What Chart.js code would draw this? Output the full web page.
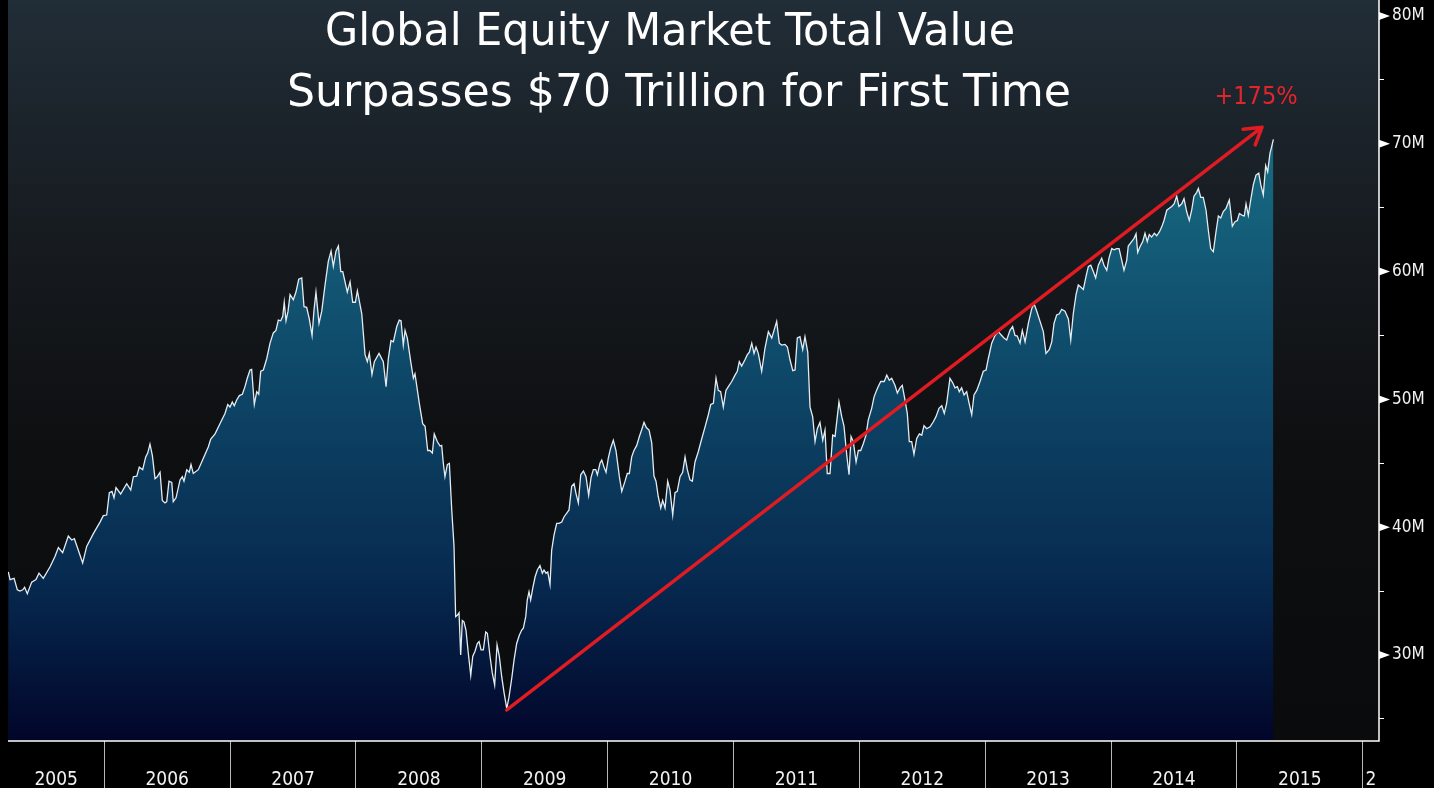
<!DOCTYPE html>
<html>
<head>
<meta charset="utf-8">
<title>Global Equity Market Total Value</title>
<script src="https://cdn.jsdelivr.net/npm/chart.js@4.4.0/dist/chart.umd.min.js"></script>
<style>
    html, body { margin: 0; padding: 0; background: #000; }
    #wrap { width: 1434px; height: 788px; position: relative; }
</style>
</head>
<body>
<div id="wrap"><canvas id="equity-chart"></canvas></div>
<script>
// Weekly closes (decimal years / value in trillions, axis shows "M")
const years = [
    2005.237, 2005.251, 2005.283, 2005.309, 2005.330, 2005.352, 2005.367, 2005.388, 2005.423, 2005.457,
    2005.481, 2005.515, 2005.569, 2005.608, 2005.635, 2005.669, 2005.714, 2005.741, 2005.762, 2005.797,
    2005.828, 2005.860, 2005.913, 2005.966, 2005.992, 2006.019, 2006.040, 2006.061, 2006.077, 2006.093,
    2006.130, 2006.178, 2006.210, 2006.231, 2006.258, 2006.278, 2006.305, 2006.329, 2006.345, 2006.363,
    2006.382, 2006.403, 2006.421, 2006.443, 2006.461, 2006.482, 2006.496, 2006.514, 2006.536, 2006.548,
    2006.570, 2006.602, 2006.620, 2006.633, 2006.655, 2006.675, 2006.689, 2006.707, 2006.747, 2006.787,
    2006.827, 2006.846, 2006.880, 2006.919, 2006.959, 2006.981, 2006.999, 2007.017, 2007.033, 2007.052,
    2007.073, 2007.097, 2007.118, 2007.136, 2007.158, 2007.171, 2007.192, 2007.211, 2007.227, 2007.243,
    2007.264, 2007.291, 2007.317, 2007.343, 2007.364, 2007.383, 2007.402, 2007.418, 2007.430, 2007.444,
    2007.460, 2007.476, 2007.502, 2007.523, 2007.545, 2007.569, 2007.587, 2007.608, 2007.629, 2007.651,
    2007.666, 2007.682, 2007.706, 2007.728, 2007.754, 2007.780, 2007.802, 2007.820, 2007.841, 2007.860,
    2007.879, 2007.895, 2007.913, 2007.931, 2007.953, 2007.974, 2007.995, 2008.011, 2008.046, 2008.072,
    2008.090, 2008.106, 2008.127, 2008.146, 2008.183, 2008.217, 2008.239, 2008.257, 2008.278, 2008.297,
    2008.324, 2008.344, 2008.358, 2008.376, 2008.390, 2008.408, 2008.435, 2008.456, 2008.469, 2008.503,
    2008.530, 2008.549, 2008.570, 2008.588, 2008.607, 2008.622, 2008.646, 2008.668, 2008.681, 2008.694,
    2008.707, 2008.726, 2008.742, 2008.761, 2008.779, 2008.792, 2008.805, 2008.819, 2008.832, 2008.845,
    2008.858, 2008.874, 2008.893, 2008.912, 2008.928, 2008.946, 2008.964, 2008.978, 2008.994, 2009.012,
    2009.031, 2009.044, 2009.065, 2009.083, 2009.102, 2009.121, 2009.139, 2009.158, 2009.176, 2009.198,
    2009.216, 2009.238, 2009.256, 2009.277, 2009.298, 2009.317, 2009.330, 2009.349, 2009.361, 2009.375,
    2009.388, 2009.404, 2009.423, 2009.441, 2009.462, 2009.481, 2009.494, 2009.510, 2009.524, 2009.542,
    2009.555, 2009.574, 2009.595, 2009.613, 2009.635, 2009.653, 2009.675, 2009.693, 2009.714, 2009.733,
    2009.748, 2009.767, 2009.786, 2009.807, 2009.828, 2009.849, 2009.868, 2009.886, 2009.905, 2009.918,
    2009.939, 2009.953, 2009.971, 2009.987, 2010.005, 2010.024, 2010.045, 2010.066, 2010.093, 2010.112,
    2010.138, 2010.156, 2010.172, 2010.191, 2010.209, 2010.231, 2010.252, 2010.271, 2010.289, 2010.307,
    2010.329, 2010.350, 2010.368, 2010.384, 2010.402, 2010.422, 2010.437, 2010.456, 2010.477, 2010.495,
    2010.517, 2010.535, 2010.553, 2010.575, 2010.596, 2010.615, 2010.633, 2010.654, 2010.673, 2010.694,
    2010.720, 2010.747, 2010.774, 2010.800, 2010.819, 2010.840, 2010.861, 2010.879, 2010.898, 2010.919,
    2010.940, 2010.959, 2010.986, 2011.012, 2011.030, 2011.046, 2011.065, 2011.091, 2011.110, 2011.126,
    2011.145, 2011.163, 2011.179, 2011.197, 2011.224, 2011.250, 2011.277, 2011.304, 2011.322, 2011.343,
    2011.364, 2011.383, 2011.409, 2011.428, 2011.449, 2011.471, 2011.489, 2011.507, 2011.528, 2011.550,
    2011.568, 2011.590, 2011.608, 2011.629, 2011.648, 2011.666, 2011.687, 2011.709, 2011.727, 2011.745,
    2011.767, 2011.788, 2011.807, 2011.838, 2011.860, 2011.878, 2011.900, 2011.918, 2011.934, 2011.952,
    2011.974, 2011.992, 2012.011, 2012.032, 2012.053, 2012.071, 2012.098, 2012.117, 2012.143, 2012.170,
    2012.198, 2012.218, 2012.238, 2012.257, 2012.283, 2012.302, 2012.323, 2012.341, 2012.363, 2012.381,
    2012.397, 2012.416, 2012.434, 2012.456, 2012.477, 2012.496, 2012.514, 2012.535, 2012.562, 2012.588,
    2012.609, 2012.633, 2012.655, 2012.675, 2012.694, 2012.720, 2012.742, 2012.760, 2012.779, 2012.794,
    2012.813, 2012.832, 2012.853, 2012.872, 2012.893, 2012.911, 2012.933, 2012.959, 2012.985, 2013.007,
    2013.025, 2013.052, 2013.078, 2013.104, 2013.131, 2013.149, 2013.171, 2013.197, 2013.218, 2013.237,
    2013.255, 2013.277, 2013.295, 2013.317, 2013.343, 2013.370, 2013.388, 2013.410, 2013.436, 2013.462,
    2013.483, 2013.510, 2013.529, 2013.547, 2013.568, 2013.589, 2013.608, 2013.634, 2013.661, 2013.680,
    2013.700, 2013.722, 2013.740, 2013.759, 2013.780, 2013.801, 2013.820, 2013.839, 2013.859, 2013.878,
    2013.899, 2013.926, 2013.944, 2013.966, 2013.984, 2014.006, 2014.024, 2014.045, 2014.064, 2014.085,
    2014.103, 2014.125, 2014.137, 2014.164, 2014.183, 2014.199, 2014.212, 2014.230, 2014.252, 2014.270,
    2014.288, 2014.304, 2014.323, 2014.344, 2014.363, 2014.384, 2014.403, 2014.421, 2014.443, 2014.463,
    2014.482, 2014.501, 2014.522, 2014.540, 2014.562, 2014.580, 2014.601, 2014.622, 2014.641, 2014.659,
    2014.681, 2014.694, 2014.713, 2014.733, 2014.755, 2014.773, 2014.792, 2014.813, 2014.834, 2014.853,
    2014.872, 2014.892, 2014.914, 2014.940, 2014.964, 2014.985, 2015.004, 2015.020, 2015.043, 2015.059,
    2015.073, 2015.091, 2015.110, 2015.131, 2015.152, 2015.174, 2015.190, 2015.210, 2015.229, 2015.245,
    2015.263, 2015.277, 2015.290
];

const values = [
    36.5, 35.9, 36.0, 35.1, 35.0, 35.1, 35.3, 34.8, 35.7, 35.9,
    36.4, 36.0, 36.9, 37.7, 38.4, 38.0, 39.3, 39.0, 39.1, 38.1,
    37.2, 38.5, 39.5, 40.4, 40.9, 40.95, 42.7, 42.8, 42.3, 43.1,
    42.6, 43.4, 42.9, 43.95, 44.0, 44.7, 44.5, 45.5, 45.8, 46.5,
    45.6, 43.8, 43.95, 44.3, 42.1, 41.9, 42.0, 43.6, 43.5, 42.0,
    42.3, 43.7, 43.95, 43.6, 44.5, 44.3, 44.9, 44.2, 44.5, 45.4,
    46.3, 46.9, 47.3, 48.1, 48.9, 49.6, 49.4, 49.8, 49.5, 49.95,
    50.3, 50.4, 51.0, 51.65, 52.3, 52.35, 49.6, 50.6, 50.4, 52.2,
    52.3, 53.2, 54.4, 55.2, 55.4, 56.2, 56.15, 56.5, 57.6, 56.15,
    56.9, 58.2, 57.8, 58.4, 59.4, 59.5, 57.25, 57.2, 56.3, 55.0,
    56.95, 58.4, 55.95, 56.9, 58.95, 60.8, 61.6, 60.4, 61.6, 62.0,
    60.0, 60.0, 59.2, 58.4, 59.2, 57.6, 57.6, 58.5, 56.7, 53.5,
    52.95, 53.6, 51.95, 52.95, 53.6, 52.95, 51.0, 53.2, 54.6, 54.5,
    55.7, 56.2, 56.15, 54.25, 55.4, 54.8, 52.95, 51.65, 52.0, 49.7,
    48.1, 47.9, 46.0, 46.0, 45.8, 47.3, 46.7, 46.35, 46.4, 45.0,
    43.95, 44.9, 45.0, 41.35, 38.5, 33.0, 33.1, 33.3, 30.0, 32.7,
    32.6, 31.95, 30.1, 28.4, 29.9, 30.3, 30.9, 31.05, 30.4, 30.4,
    31.8, 31.7, 29.9, 28.6, 27.65, 30.8, 29.9, 28.3, 27.1, 25.8,
    26.7, 28.2, 29.6, 30.9, 31.55, 31.95, 32.1, 33.0, 34.3, 34.95,
    34.3, 35.2, 36.1, 36.65, 37.0, 36.4, 36.65, 36.4, 36.5, 35.5,
    38.2, 39.4, 40.3, 40.3, 40.4, 40.8, 41.1, 41.35, 43.2, 43.4,
    42.65, 41.9, 44.1, 44.4, 43.95, 42.5, 43.9, 44.5, 44.5, 44.1,
    45.0, 45.25, 44.7, 44.3, 45.4, 46.2, 46.8, 46.0, 43.95, 42.8,
    43.6, 44.2, 44.2, 45.5, 46.0, 46.4, 47.1, 47.65, 48.2, 47.8,
    47.6, 46.6, 44.0, 43.6, 42.4, 41.5, 42.1, 41.5, 43.6, 42.9,
    40.95, 42.7, 42.8, 43.95, 44.3, 45.5, 44.5, 43.7, 43.6, 45.1,
    45.9, 46.9, 47.85, 48.8, 49.6, 49.7, 51.65, 50.7, 50.6, 49.4,
    50.7, 51.0, 51.4, 51.9, 52.2, 52.95, 52.6, 53.1, 53.5, 53.7,
    54.4, 53.6, 54.1, 53.6, 52.2, 54.0, 55.3, 54.8, 55.4, 56.1,
    54.4, 54.25, 54.3, 54.1, 53.1, 52.25, 52.3, 54.8, 54.9, 53.9,
    54.9, 53.7, 49.4, 48.65, 46.7, 47.7, 48.2, 46.8, 47.6, 44.2,
    44.2, 47.2, 47.1, 49.8, 48.65, 47.9, 45.65, 44.1, 47.1, 46.7,
    45.1, 46.0, 46.0, 46.55, 47.2, 48.4, 49.3, 50.2, 50.85, 51.4,
    51.4, 51.9, 51.5, 51.65, 51.1, 50.5, 50.9, 51.1, 49.95, 48.9,
    46.7, 46.7, 45.7, 46.95, 47.3, 47.2, 47.95, 47.7, 47.85, 48.25,
    48.65, 49.3, 49.5, 48.9, 49.7, 51.65, 51.3, 50.9, 51.0, 50.6,
    50.9, 50.35, 50.6, 49.7, 48.8, 50.35, 50.7, 51.4, 52.2, 52.3,
    53.2, 54.4, 55.0, 55.3, 55.0, 54.8, 54.65, 55.4, 55.7, 55.0,
    54.95, 54.4, 55.4, 54.5, 55.95, 57.1, 57.5, 56.9, 56.1, 55.3,
    53.6, 53.9, 54.5, 55.95, 56.6, 56.7, 57.05, 56.9, 56.3, 54.65,
    56.7, 58.2, 58.95, 58.8, 58.6, 59.6, 60.4, 60.5, 60.0, 59.5,
    60.5, 61.05, 60.5, 60.1, 61.05, 61.8, 61.7, 61.8, 61.8, 60.9,
    60.1, 60.9, 62.0, 62.35, 62.6, 62.95, 61.5, 61.95, 62.35, 63.0,
    62.35, 62.9, 62.7, 63.0, 62.8, 63.1, 63.5, 64.0, 64.8, 64.95,
    65.1, 65.3, 65.9, 65.1, 65.3, 65.7, 64.7, 64.0, 64.8, 65.9,
    66.2, 66.5, 65.8, 65.8, 64.8, 63.25, 61.8, 61.55, 63.1, 64.35,
    64.2, 64.7, 64.95, 65.6, 63.55, 63.9, 64.0, 64.55, 64.4, 64.35,
    65.3, 64.4, 65.6, 66.8, 67.55, 67.7, 66.8, 66.0, 68.3, 67.8,
    69.25, 69.8, 70.35
];

// Axis range and ticks
const yearMin = 2005.2347;
const yearMax = 2016.1295;
const valueMin = 23.27;
const valueMax = 81.25;
const yearLabels = ['2005', '2006', '2007', '2008', '2009', '2010', '2011', '2012', '2013', '2014', '2015', '2'];
const yearStarts = [2005, 2006, 2007, 2008, 2009, 2010, 2011, 2012, 2013, 2014, 2015, 2016];
const valueTicks = [25, 30, 35, 40, 45, 50, 55, 60, 65, 70, 75, 80];

// Annotation: trough (Mar 2009) to latest high
const arrowStart = [2009.198, 25.7];
const arrowEnd = [2015.200, 71.3];
const arrowLabel = '+175%';

const titleLines = ['Global Equity Market Total Value', 'Surpasses $70 Trillion for First Time'];

const FONT = '"DejaVu Sans Condensed", "DejaVu Sans", sans-serif';

// Labels sit in the middle of the visible part of each year
const labelTicks = yearStarts.map(function(start, i) {
    const a = Math.max(start, yearMin);
    const b = Math.min(start + 1, yearMax);
    return { value: (a + b) / 2, label: yearLabels[i] };
});
const boundaryTicks = yearStarts.filter(function(s) { return s > yearMin && s < yearMax; })
    .map(function(s) { return { value: s, label: '' }; });

function isBoundary(v) {
    return Math.abs(v - Math.round(v)) < 1e-6;
}

const backgroundPlugin = {
    id: 'plotBackground',
    beforeDraw(chart) {
        const { ctx, chartArea } = chart;
        ctx.save();
        ctx.fillStyle = '#000';
        ctx.fillRect(0, 0, chart.width, chart.height);
        const g = ctx.createLinearGradient(0, chartArea.top, 0, chartArea.bottom);
        g.addColorStop(0, '#212d37');
        g.addColorStop(0.3, '#171c21');
        g.addColorStop(0.6, '#0e0f11');
        g.addColorStop(1, '#0a0b0d');
        ctx.fillStyle = g;
        ctx.fillRect(chartArea.left, chartArea.top, chartArea.right - chartArea.left, chartArea.bottom - chartArea.top);
        ctx.restore();
    }
};

const annotationPlugin = {
    id: 'growthArrow',
    afterDatasetsDraw(chart) {
        const { ctx, scales } = chart;
        const x0 = scales.x.getPixelForValue(arrowStart[0]);
        const y0 = scales.y.getPixelForValue(arrowStart[1]);
        const x1 = scales.x.getPixelForValue(arrowEnd[0]);
        const y1 = scales.y.getPixelForValue(arrowEnd[1]);
        const ang = Math.atan2(y1 - y0, x1 - x0);
        const head = 19;

        ctx.save();
        ctx.strokeStyle = '#e01b22';
        ctx.lineWidth = 3.5;
        ctx.lineCap = 'round';
        ctx.lineJoin = 'round';
        ctx.beginPath();
        ctx.moveTo(x0, y0);
        ctx.lineTo(x1, y1);
        ctx.moveTo(x1 - head * Math.cos(ang - 0.55), y1 - head * Math.sin(ang - 0.55));
        ctx.lineTo(x1, y1);
        ctx.lineTo(x1 - head * Math.cos(ang + 0.55), y1 - head * Math.sin(ang + 0.55));
        ctx.stroke();

        ctx.fillStyle = '#e3242b';
        ctx.font = '25px ' + FONT;
        ctx.textAlign = 'center';
        ctx.textBaseline = 'middle';
        ctx.fillText(arrowLabel, x1 - 6, y1 - 30);
        ctx.restore();
    }
};

// draw a line of text centred at cx, stretched to the given width
function drawStretched(ctx, text, cx, baseline, width) {
    const measured = ctx.measureText(text).width;
    const sx = width / measured;
    ctx.save();
    ctx.translate(cx, baseline);
    ctx.scale(sx, 1);
    ctx.fillText(text, 0, 0);
    ctx.restore();
}

const overlayPlugin = {
    id: 'titleAndMarkers',
    afterDraw(chart) {
        const { ctx, scales, chartArea } = chart;
        ctx.save();

        // frame: bottom and right axis lines
        ctx.strokeStyle = '#ffffff';
        ctx.lineWidth = 1.5;
        ctx.beginPath();
        ctx.moveTo(chartArea.left, chartArea.bottom);
        ctx.lineTo(chartArea.right, chartArea.bottom);
        ctx.lineTo(chartArea.right, chartArea.top);
        ctx.stroke();

        // white arrow markers on the major value ticks
        ctx.fillStyle = '#ffffff';
        valueTicks.filter(function(v) { return v % 10 === 0; }).forEach(function(v) {
            const py = scales.y.getPixelForValue(v);
            ctx.beginPath();
            ctx.moveTo(scales.y.left, py - 4);
            ctx.lineTo(scales.y.left + 11, py);
            ctx.lineTo(scales.y.left, py + 4);
            ctx.closePath();
            ctx.fill();
        });

        // title
        ctx.fillStyle = '#ffffff';
        ctx.font = '45px ' + FONT;
        ctx.textAlign = 'center';
        ctx.textBaseline = 'alphabetic';
        drawStretched(ctx, titleLines[0], 670, 45, 690);
        drawStretched(ctx, titleLines[1], 679, 106, 784);
        ctx.restore();
    }
};

function zeroPadding(scale) {
    scale.paddingTop = 0;
    scale.paddingBottom = 0;
    scale.paddingLeft = 0;
    scale.paddingRight = 0;
}

const ctx = document.getElementById('equity-chart');
new Chart(ctx, {
    type: 'line',
    data: {
        datasets: [{
            data: years.map(function(yr, i) { return { x: yr, y: values[i] }; }),
            borderColor: '#e4ecf1',
            borderWidth: 1.3,
            pointRadius: 0,
            tension: 0,
            fill: 'start',
            backgroundColor: function(context) {
                const area = context.chart.chartArea;
                if (!area) return 'rgba(20, 90, 120, 0.8)';
                const g = context.chart.ctx.createLinearGradient(0, area.top, 0, area.bottom);
                g.addColorStop(0, '#1f7d92');
                g.addColorStop(0.2, '#176a82');
                g.addColorStop(0.5, '#0e4868');
                g.addColorStop(0.78, '#072a50');
                g.addColorStop(1, '#02052a');
                return g;
            }
        }]
    },
    options: {
        responsive: true,
        maintainAspectRatio: false,
        animation: false,
        layout: { padding: { left: 8, top: 0, right: 0, bottom: 0 } },
        plugins: {
            legend: { display: false },
            tooltip: { enabled: false }
        },
        scales: {
            x: {
                type: 'linear',
                min: yearMin,
                max: yearMax,
                afterBuildTicks: function(scale) {
                    scale.ticks = boundaryTicks.concat(labelTicks)
                        .sort(function(a, b) { return a.value - b.value; })
                        .map(function(t) { return { value: t.value }; });
                },
                afterFit: function(scale) {
                    scale.height = 47;
                    zeroPadding(scale);
                },
                grid: {
                    drawOnChartArea: false,
                    drawTicks: true,
                    tickLength: 47,
                    lineWidth: 1,
                    color: function(c) {
                        return c.tick && isBoundary(c.tick.value) ? '#b8b8b8' : 'rgba(0,0,0,0)';
                    }
                },
                border: { display: false },
                ticks: {
                    autoSkip: false,
                    maxRotation: 0,
                    padding: -19,
                    color: '#f2f2f2',
                    font: { family: FONT, size: 19 },
                    callback: function(value) {
                        const t = labelTicks.find(function(l) { return Math.abs(l.value - value) < 1e-6; });
                        return t ? t.label : '';
                    }
                }
            },
            y: {
                position: 'right',
                min: valueMin,
                max: valueMax,
                afterBuildTicks: function(scale) {
                    scale.ticks = valueTicks.map(function(v) { return { value: v }; });
                },
                afterFit: function(scale) {
                    scale.width = 55;
                    zeroPadding(scale);
                },
                grid: {
                    drawOnChartArea: false,
                    drawTicks: true,
                    tickLength: 5,
                    lineWidth: 1,
                    color: function(c) {
                        return c.tick && c.tick.value % 10 !== 0 ? '#ffffff' : 'rgba(0,0,0,0)';
                    }
                },
                border: { display: false },
                ticks: {
                    padding: 8,
                    color: '#f2f2f2',
                    font: { family: FONT, size: 17 },
                    callback: function(value) {
                        return value % 10 === 0 ? value + 'M' : '';
                    }
                }
            }
        }
    },
    plugins: [backgroundPlugin, annotationPlugin, overlayPlugin]
});
</script>
</body>
</html>
